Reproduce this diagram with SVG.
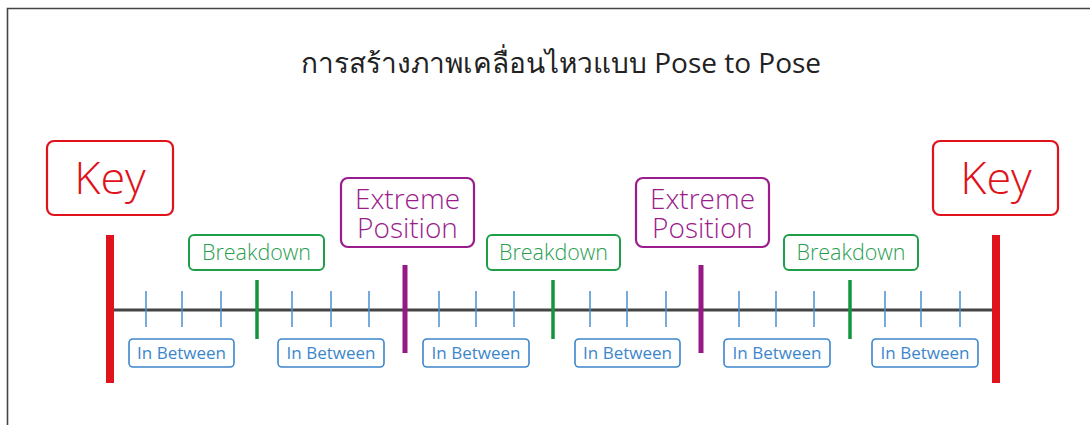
<svg xmlns="http://www.w3.org/2000/svg" width="1090" height="425" viewBox="0 0 1090 425">
<style>
text{font-family:"Open Sans","Noto Sans","DejaVu Sans",sans-serif;text-anchor:middle;font-weight:300}
.title{font-size:28px;fill:#222;font-weight:400}
.key rect{fill:#fff;stroke:#e0121c;stroke-width:2.2}
.key text{fill:#e0121c;font-size:45px}
.ext rect{fill:#fff;stroke:#9b1c8c;stroke-width:2.2}
.ext text{fill:#9b1c8c;font-size:28px}
.brk rect{fill:#fff;stroke:#1e9e48;stroke-width:2}
.brk text{fill:#2a9e50;font-size:21.5px}
.ib rect{fill:#fff;stroke:#3c86cc;stroke-width:1.6}
.ib text{fill:#3c86cc;font-size:17px;font-weight:400}
.tick{stroke:#4a8fd0;stroke-width:1.5}
.keybar{stroke:#e0121c;stroke-width:8}
.extbar{stroke:#951a86;stroke-width:5}
.brkbar{stroke:#13953e;stroke-width:3.5}
</style>
<rect width="1090" height="425" fill="#fff"/>
<path d="M7.5,425V8.5H1090" fill="none" stroke="#444" stroke-width="1.6"/>
<text class="title" x="561" y="73">การสร้างภาพเคลื่อนไหวแบบ Pose to Pose</text>
<g id="connectors">
<line x1="110" y1="310" x2="996" y2="310" stroke="#444" stroke-width="3"/>
<g class="tick">
<line x1="146" y1="291" x2="146" y2="327"/><line x1="182" y1="291" x2="182" y2="327"/><line x1="221" y1="291" x2="221" y2="327"/>
<line x1="292" y1="291" x2="292" y2="327"/><line x1="331" y1="291" x2="331" y2="327"/><line x1="369" y1="291" x2="369" y2="327"/>
<line x1="439" y1="291" x2="439" y2="327"/><line x1="476" y1="291" x2="476" y2="327"/><line x1="514" y1="291" x2="514" y2="327"/>
<line x1="590" y1="291" x2="590" y2="327"/><line x1="627" y1="291" x2="627" y2="327"/><line x1="666" y1="291" x2="666" y2="327"/>
<line x1="739" y1="291" x2="739" y2="327"/><line x1="776" y1="291" x2="776" y2="327"/><line x1="814" y1="291" x2="814" y2="327"/>
<line x1="885" y1="291" x2="885" y2="327"/><line x1="921" y1="291" x2="921" y2="327"/><line x1="960" y1="291" x2="960" y2="327"/>
</g>
<line class="brkbar" x1="257" y1="280" x2="257" y2="339"/>
<line class="brkbar" x1="553" y1="280" x2="553" y2="339"/>
<line class="brkbar" x1="850" y1="280" x2="850" y2="339"/>
<line class="extbar" x1="405" y1="265" x2="405" y2="353"/>
<line class="extbar" x1="701" y1="265" x2="701" y2="353"/>
<line class="keybar" x1="110" y1="235" x2="110" y2="383"/>
<line class="keybar" x1="996" y1="235" x2="996" y2="383"/>
</g>
<g id="key1" class="key"><rect x="47" y="141" width="126" height="74" rx="7"/><text x="110" y="194">Key</text></g>
<g id="key2" class="key"><rect x="933" y="141" width="125" height="74" rx="7"/><text x="996" y="194">Key</text></g>
<g id="ext1" class="ext"><rect x="341" y="178" width="133" height="69" rx="7"/><text x="407.5" y="208.5">Extreme</text><text x="407.5" y="237.5">Position</text></g>
<g id="ext2" class="ext"><rect x="636" y="178" width="133" height="69" rx="7"/><text x="702.5" y="208.5">Extreme</text><text x="702.5" y="237.5">Position</text></g>
<g id="brk1" class="brk"><rect x="189" y="235" width="135" height="35" rx="5"/><text x="256.5" y="259.5">Breakdown</text></g>
<g id="brk2" class="brk"><rect x="487" y="235" width="133" height="35" rx="5"/><text x="553.5" y="259.5">Breakdown</text></g>
<g id="brk3" class="brk"><rect x="784" y="235" width="134" height="35" rx="5"/><text x="851" y="259.5">Breakdown</text></g>
<g id="ib1" class="ib"><rect x="129" y="339" width="105" height="28" rx="4"/><text x="181.5" y="359">In Between</text></g>
<g id="ib2" class="ib"><rect x="278" y="339" width="106" height="28" rx="4"/><text x="331" y="359">In Between</text></g>
<g id="ib3" class="ib"><rect x="423" y="339" width="106" height="28" rx="4"/><text x="476" y="359">In Between</text></g>
<g id="ib4" class="ib"><rect x="575" y="339" width="105" height="28" rx="4"/><text x="627.5" y="359">In Between</text></g>
<g id="ib5" class="ib"><rect x="724" y="339" width="106" height="28" rx="4"/><text x="777" y="359">In Between</text></g>
<g id="ib6" class="ib"><rect x="872" y="339" width="106" height="28" rx="4"/><text x="925" y="359">In Between</text></g>
</svg>
